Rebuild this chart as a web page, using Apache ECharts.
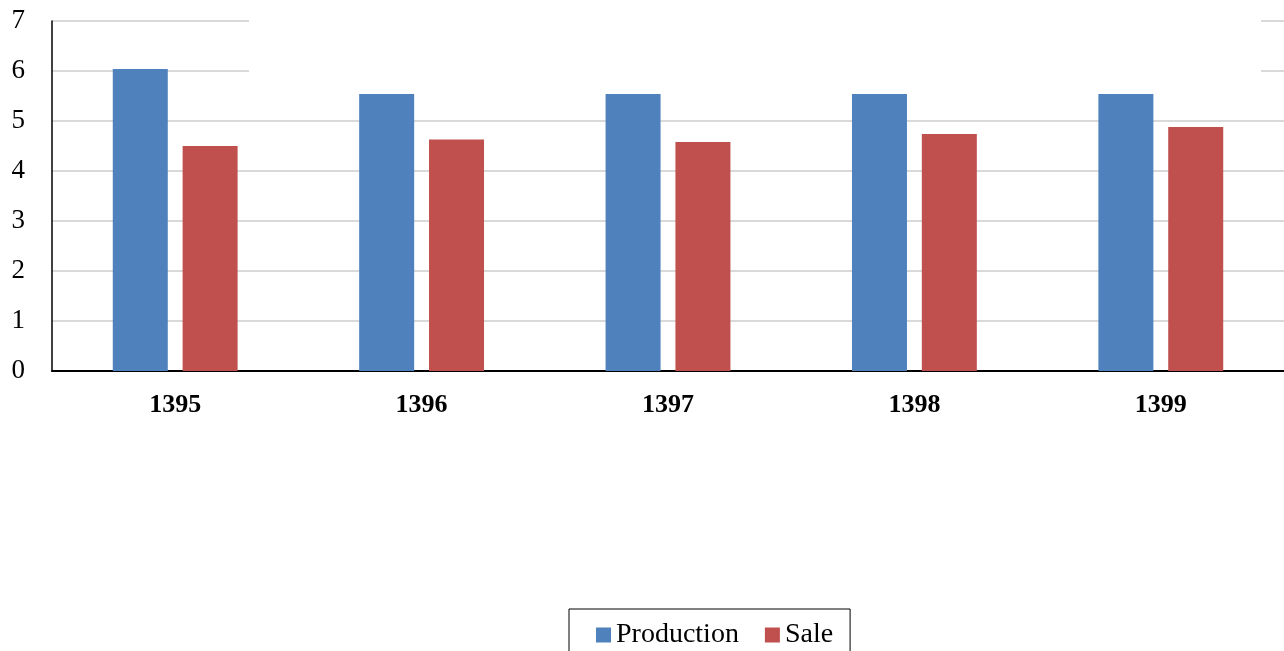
<!DOCTYPE html>
<html>
<head>
<meta charset="utf-8">
<script src="https://cdn.jsdelivr.net/npm/echarts@6/dist/echarts.min.js"></script>
<style>
  html, body { margin: 0; padding: 0; background: #fff; }
  #chart { width: 1284px; height: 651px; }
</style>
</head>
<body>
<div id="chart"></div>
<script>
// Yearly figures (Iranian calendar years)
const years = ['1395', '1396', '1397', '1398', '1399'];
const production = [6.04, 5.54, 5.54, 5.54, 5.54];
const sale = [4.50, 4.63, 4.58, 4.74, 4.88];
const yTicks = [0, 1, 2, 3, 4, 5, 6, 7];

const chart = echarts.init(document.getElementById('chart'), null, { renderer: 'canvas' });

chart.setOption({
  animation: false,
  backgroundColor: '#ffffff',
  grid: { left: 52, right: 0, top: 21, bottom: 280, containLabel: false },
  legend: {
    data: ['Production', 'Sale'],
    left: 569,
    top: 609,
    orient: 'horizontal',
    icon: 'rect',
    itemWidth: 15,
    itemHeight: 15,
    itemGap: 26,
    padding: [12, 17, 12, 27],
    borderColor: '#000000',
    borderWidth: 1,
    textStyle: { fontFamily: 'Liberation Serif', fontSize: 28, color: '#000000' }
  },
  xAxis: {
    type: 'category',
    data: years,
    axisLine: { show: true, lineStyle: { color: '#000000', width: 2 } },
    axisTick: { show: false },
    axisLabel: {
      margin: 21,
      fontFamily: 'Liberation Serif',
      fontWeight: 'bold',
      fontSize: 26,
      color: '#000000'
    },
    splitLine: { show: false }
  },
  yAxis: {
    type: 'value',
    min: yTicks[0],
    max: yTicks[yTicks.length - 1],
    interval: 1,
    axisLine: { show: true, lineStyle: { color: '#000000', width: 1.5 } },
    axisTick: { show: false },
    axisLabel: {
      margin: 27,
      fontFamily: 'Liberation Serif',
      fontSize: 27,
      color: '#000000',
      padding: [3, 0, 0, 0]
    },
    splitLine: { show: true, lineStyle: { color: '#d9d9d9', width: 2 } }
  },
  series: [
    {
      name: 'Production',
      type: 'bar',
      data: production,
      barWidth: 55,
      barGap: '27%',
      itemStyle: { color: '#4f81bd' }
    },
    {
      name: 'Sale',
      type: 'bar',
      data: sale,
      barWidth: 55,
      barGap: '27%',
      itemStyle: { color: '#c0504d' }
    }
  ],
  // Blank panel over the upper plot area
  graphic: [{
    type: 'rect',
    z: 100,
    shape: { x: 249, y: 8, width: 1012, height: 74 },
    style: { fill: '#ffffff' }
  }]
});
</script>
</body>
</html>
